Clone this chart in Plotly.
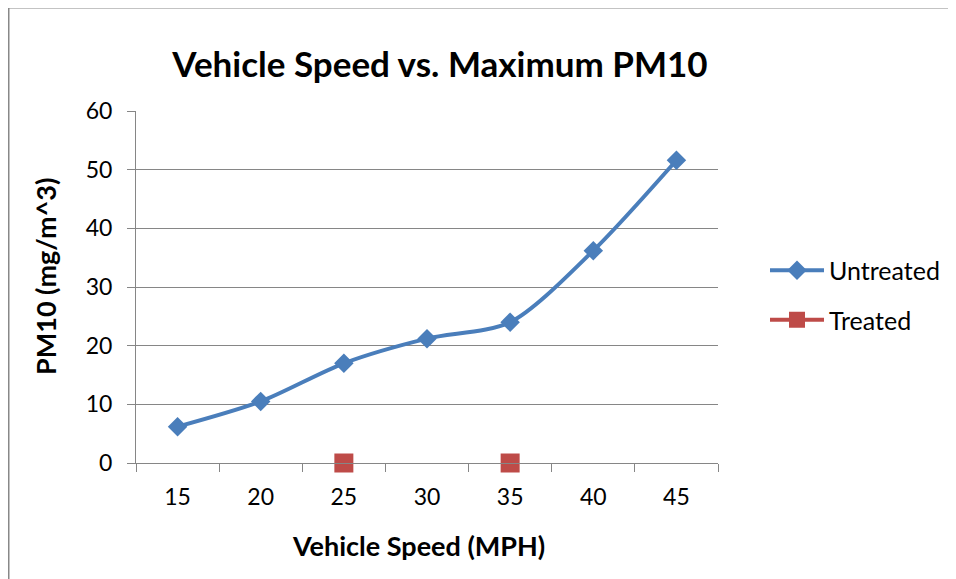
import plotly.graph_objects as go

speeds = ["15", "20", "25", "30", "35", "40", "45"]
untreated = [6.2, 10.5, 17.0, 21.2, 24.0, 36.2, 51.6]
treated = [None, None, 0, None, 0, None, None]

FONT = "Lato"
GRID = "#868686"
BLUE = "#4A7EBB"
RED = "#BE4B48"

fig = go.Figure()
fig.add_trace(go.Scatter(
    x=speeds, y=untreated, name="Untreated", mode="lines+markers",
    line=dict(color=BLUE, width=4, shape="spline", smoothing=0.8),
    marker=dict(symbol="diamond", size=15, color=BLUE),
    legendgroup="a", cliponaxis=False,
))
fig.add_trace(go.Scatter(
    x=speeds, y=treated, name="Treated", mode="lines+markers",
    line=dict(color=RED, width=4), connectgaps=False,
    marker=dict(symbol="square", size=19, color=RED),
    legendgroup="b", cliponaxis=False,
))

# page offset of 8px (body margin) accounted for
W, H = 948, 571
L, T = 128, 103
R, B = W - 710, H - 455
pw, ph = W - L - R, H - T - B

def px(x):
    return (x - L) / pw

def py(y):
    return (H - B - y) / ph

bx = px(0.5)
by = py(-0.5)

fig.update_layout(
    width=W, height=H,
    margin=dict(l=L, r=R, t=T, b=B, autoexpand=False),
    paper_bgcolor="white", plot_bgcolor="white",
    font=dict(family=FONT, color="black"),
    title=dict(text="<b>Vehicle Speed vs. Maximum PM10</b>", x=432 / W, xanchor="center",
               y=1 - 57 / H, yanchor="middle", font=dict(size=35, family=FONT)),
    showlegend=True,
    legend=dict(x=px(757), xanchor="left", y=py(287), yanchor="middle",
                font=dict(size=25, family=FONT), traceorder="grouped", tracegroupgap=14,
                itemwidth=54, bgcolor="rgba(0,0,0,0)"),
    xaxis=dict(
        type="category", tickson="boundaries", ticks="outside", ticklen=8, tickcolor=GRID,
        showline=True, linecolor=GRID, linewidth=1, showgrid=False,
        tickfont=dict(size=23, family=FONT), ticklabelstandoff=13,
        range=[-0.5, 6.5],
    ),
    yaxis=dict(
        range=[0, 60], dtick=10, ticks="outside", ticklen=8, tickcolor=GRID,
        showline=True, linecolor=GRID, linewidth=1, showgrid=True, gridcolor=GRID, gridwidth=1,
        zeroline=False, tickfont=dict(size=23, family=FONT), ticklabelstandoff=10,
    ),
    annotations=[
        dict(text="<b>Vehicle Speed (MPH)</b>", xref="paper", yref="paper",
             x=px(410), y=py(537), xanchor="center", yanchor="middle", showarrow=False,
             font=dict(size=27, family=FONT)),
        dict(text="<b>PM10 (mg/m^3)</b>", xref="paper", yref="paper",
             x=px(37), y=py(269), xanchor="center", yanchor="middle", showarrow=False,
             textangle=-90, font=dict(size=27, family=FONT)),
    ],
    shapes=[
        dict(type="line", xref="paper", yref="paper", x0=bx, x1=2, y0=by, y1=by,
             line=dict(color="#888888", width=2)),
        dict(type="line", xref="paper", yref="paper", x0=bx, x1=bx, y0=by, y1=-1,
             line=dict(color="#888888", width=2)),
    ],
)

fig.write_html("out.html")
